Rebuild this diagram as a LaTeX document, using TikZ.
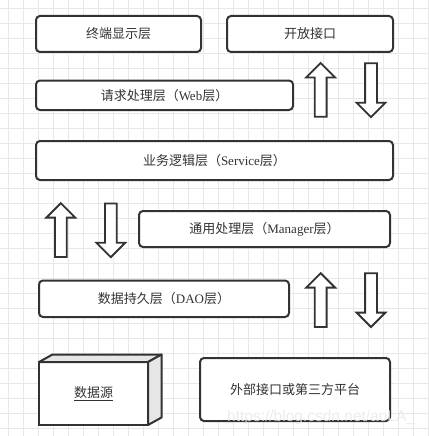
\documentclass[tikz,border=0pt]{standalone}
\usepackage{fontspec}
\setmainfont{Liberation Serif}
\newfontfamily\zhfont{Noto Sans CJK SC}
\newfontfamily\wmfont{Liberation Sans}
\usetikzlibrary{shapes.arrows}
\definecolor{ink}{HTML}{333333}
\definecolor{gridgray}{HTML}{E8E8E8}
\definecolor{sidegray}{HTML}{E6E6E6}
\newcommand{\zh}[1]{{\zhfont #1}}

\begin{document}
\begin{tikzpicture}[x=1pt, y=-1pt,
        layer/.style = {draw=ink, line width=2pt, rounded corners=4pt, fill=white, inner sep=0pt, outer sep=0pt, text=ink, font=\fontsize{13}{15}\selectfont},
        blockarrow/.style = {single arrow, draw=ink, line width=1.8pt, fill=white, inner xsep=0pt, inner ysep=5pt, outer sep=0pt, minimum width=27pt, minimum height=53.8pt, single arrow head extend=8.5pt, anchor=tail},
        gridline/.style = {draw=gridgray, line width=0.9pt}
    ]
        \useasboundingbox (0,0) rectangle (428,436);
        \fill[white] (0,0) rectangle (428,436);
        % background grid
        \foreach \g in {8,23,...,428} {
            \draw[gridline] (\g,0) -- (\g,436);
            \draw[gridline] (0,\g) -- (428,\g);
        }
        % layers
        \node[layer, minimum width=165pt, minimum height=36pt] (term) at (118.5,34) {\zh{终端显示层}};
        \node[layer, minimum width=166pt, minimum height=36pt] (open) at (310,34) {\zh{开放接口}};
        \node[layer, minimum width=257pt, minimum height=29.5pt] (web) at (164.5,95.25) {\zh{请求处理层（}Web\zh{层）}};
        \node[layer, minimum width=357pt, minimum height=39pt] (service) at (214.5,160.5) {\zh{业务逻辑层（}Service\zh{层）}};
        \node[layer, minimum width=251pt, minimum height=36pt] (manager) at (264.5,229) {\zh{通用处理层（}Manager\zh{层）}};
        \node[layer, minimum width=250pt, minimum height=36.5pt] (dao) at (164,298.75) {\zh{数据持久层（}DAO\zh{层）}};
        \node[layer, minimum width=190pt, minimum height=63pt] (ext) at (295,389.5) {\zh{外部接口或第三方平台}};
        % data source cube
        \node[layer, rounded corners=0pt, minimum width=109pt, minimum height=63pt] (src) at (93.5,393.5) {\underline{\zh{数据源}}};
        \draw[ink, line width=2pt, fill=sidegray, line join=round] (src.north west) -- ++(13.5,-7.5) -- ++(109,0) -- (src.north east) -- cycle;
        \draw[ink, line width=2pt, fill=sidegray, line join=round] (src.north east) -- ++(13.5,-7.5) -- ++(0,63) -- (src.south east) -- cycle;
        % block arrows (placed by their tails)
        \node[blockarrow, rotate=90] (up1) at (320.7,116.8) {};
        \node[blockarrow, rotate=-90] (down1) at (371,63.3) {};
        \node[blockarrow, rotate=90] (up2) at (60.8,257) {};
        \node[blockarrow, rotate=-90] (down2) at (110.8,203.4) {};
        \node[blockarrow, rotate=90] (up3) at (320.7,327) {};
        \node[blockarrow, rotate=-90] (down3) at (371,273.2) {};
        % watermark
        \node[anchor=base west, inner sep=0pt, text=white!82!gray, opacity=0.8, font=\wmfont\fontsize{15.5}{16}\selectfont] (mark) at (227,421.5) {https://blog.csdn.net/aoLA\_};
    \end{tikzpicture}
\end{document}
